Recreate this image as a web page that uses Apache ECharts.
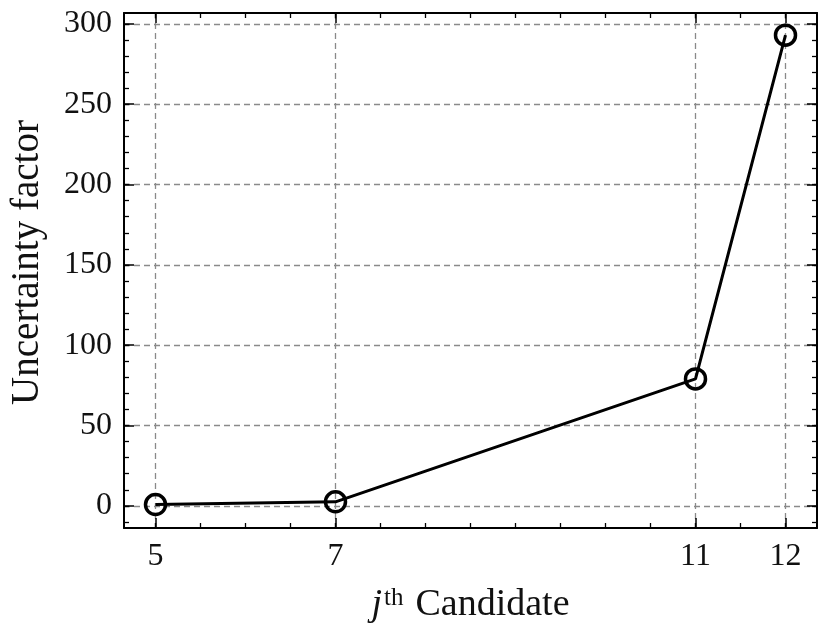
<!DOCTYPE html>
<html>
<head>
<meta charset="utf-8">
<script src="https://cdn.jsdelivr.net/npm/echarts@6/dist/echarts.min.js"></script>
<style>
  html, body { margin: 0; padding: 0; background: #fff; }
  #chart { width: 830px; height: 637px; }
</style>
</head>
<body>
<div id="chart"></div>
<script>
const candidates = [5, 7, 11, 12];
const uncertainty = [0.8, 2.5, 79, 293];

const xMajorTicks = [5, 7, 11, 12];
const xMinorTicks = [5, 5.5, 6, 6.5, 7, 7.5, 8, 8.5, 9, 9.5, 10, 10.5, 11, 11.5, 12];
const yMajorTicks = [0, 50, 100, 150, 200, 250, 300];
const yMinorTicks = [-10, 0, 10, 20, 30, 40, 50, 60, 70, 80, 90, 100, 110, 120, 130, 140, 150,
  160, 170, 180, 190, 200, 210, 220, 230, 240, 250, 260, 270, 280, 290, 300];

const xMin = 4.65, xMax = 12.35;
const yMin = -13.8, yMax = 306.8;

const font = '"Liberation Serif", "DejaVu Serif", serif';
const gridDash = { color: '#8a8a8a', width: 1.3, type: [6, 4] };

const chart = echarts.init(document.getElementById('chart'));

const xBase = { type: 'value', min: xMin, max: xMax, gridIndex: 0 };
const yBase = { type: 'value', min: yMin, max: yMax, gridIndex: 0 };

const option = {
  animation: false,
  backgroundColor: '#fff',
  grid: { left: 123, right: 13, top: 13, bottom: 109 },
  xAxis: [
    {
      ...xBase,
      position: 'bottom',
      axisLine: { show: true, onZero: false, lineStyle: { color: '#000', width: 2 } },
      axisTick: { show: true, inside: true, length: 10, customValues: xMajorTicks, lineStyle: { color: '#000', width: 1.5 } },
      axisLabel: { customValues: xMajorTicks, color: '#111', fontFamily: font, fontSize: 32, margin: 13 },
      splitLine: { show: true, lineStyle: gridDash },
      name: '{j|j}{sup|th}{n|Candidate}',
      nameLocation: 'middle',
      nameGap: 58,
      nameTextStyle: {
        rich: {
          j: { fontFamily: font, fontStyle: 'italic', fontSize: 38, color: '#111', padding: [0, 2, 0, 0] },
          sup: { fontFamily: font, fontSize: 25, color: '#111', verticalAlign: 'top', padding: [0, 12, 14, 0] },
          n: { fontFamily: font, fontSize: 38, color: '#111' }
        }
      }
    },
    {
      ...xBase,
      position: 'bottom',
      axisLine: { show: false, onZero: false },
      axisTick: { show: true, inside: true, length: 5, customValues: xMinorTicks, lineStyle: { color: '#000', width: 1.3 } },
      axisLabel: { show: false },
      splitLine: { show: false }
    },
    {
      ...xBase,
      position: 'top',
      axisLine: { show: true, onZero: false, lineStyle: { color: '#000', width: 2 } },
      axisTick: { show: true, inside: true, length: 10, customValues: xMajorTicks, lineStyle: { color: '#000', width: 1.5 } },
      axisLabel: { show: false },
      splitLine: { show: false }
    },
    {
      ...xBase,
      position: 'top',
      axisLine: { show: false, onZero: false },
      axisTick: { show: true, inside: true, length: 5, customValues: xMinorTicks, lineStyle: { color: '#000', width: 1.3 } },
      axisLabel: { show: false },
      splitLine: { show: false }
    }
  ],
  yAxis: [
    {
      ...yBase,
      position: 'left',
      axisLine: { show: true, onZero: false, lineStyle: { color: '#000', width: 2 } },
      axisTick: { show: true, inside: true, length: 10, customValues: yMajorTicks, lineStyle: { color: '#000', width: 1.5 } },
      axisLabel: { customValues: yMajorTicks, color: '#111', fontFamily: font, fontSize: 32, margin: 12 },
      splitLine: { show: true, lineStyle: gridDash },
      name: 'Uncertainty factor',
      nameLocation: 'middle',
      nameGap: 77,
      nameTextStyle: { fontFamily: font, fontSize: 39, color: '#111', padding: [0, 0, 0, 16] }
    },
    {
      ...yBase,
      position: 'left',
      axisLine: { show: false, onZero: false },
      axisTick: { show: true, inside: true, length: 5, customValues: yMinorTicks, lineStyle: { color: '#000', width: 1.3 } },
      axisLabel: { show: false },
      splitLine: { show: false }
    },
    {
      ...yBase,
      position: 'right',
      axisLine: { show: true, onZero: false, lineStyle: { color: '#000', width: 2 } },
      axisTick: { show: true, inside: true, length: 10, customValues: yMajorTicks, lineStyle: { color: '#000', width: 1.5 } },
      axisLabel: { show: false },
      splitLine: { show: false }
    },
    {
      ...yBase,
      position: 'right',
      axisLine: { show: false, onZero: false },
      axisTick: { show: true, inside: true, length: 5, customValues: yMinorTicks, lineStyle: { color: '#000', width: 1.3 } },
      axisLabel: { show: false },
      splitLine: { show: false }
    }
  ],
  series: [
    {
      type: 'line',
      xAxisIndex: 0,
      yAxisIndex: 0,
      data: candidates.map((c, i) => [c, uncertainty[i]]),
      lineStyle: { color: '#000', width: 3 },
      symbol: 'circle',
      symbolSize: 20,
      itemStyle: { color: 'rgba(0,0,0,0)', borderColor: '#000', borderWidth: 3.5 },
      z: 5
    }
  ]
};

chart.setOption(option);
</script>
</body>
</html>
